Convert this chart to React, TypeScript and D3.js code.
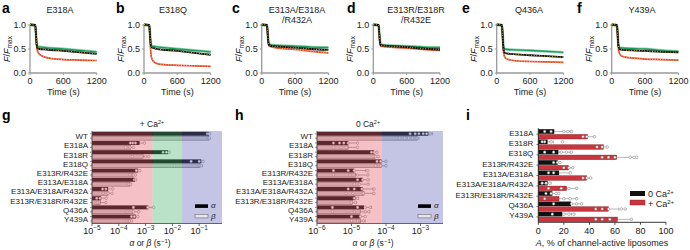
import React from 'react';
import * as d3 from 'd3';

const FONT = "'Liberation Sans', Arial, Helvetica, sans-serif";

// ---------- top panels (a-f) ----------
const topLetters = ['a', 'b', 'c', 'd', 'e', 'f'];
const topTitles = [['E318A'], ['E318Q'], ['E313A/E318A', '/R432A'], ['E313R/E318R', '/R432E'], ['Q436A'], ['Y439A']];
const timeTicks = [0, 600, 1200];
const ffTicks = [0, 0.5, 1.0];
const ffTickLabels = ['0.0', '0.5', '1.0'];

const blackTraces = [
  [[0, 1.01], [95, 1.0], [105, 0.85], [118, 0.62], [135, 0.52], [170, 0.5], [300, 0.49], [600, 0.46], [900, 0.43], [1200, 0.4]],
  [[0, 1.01], [95, 1.0], [105, 0.85], [118, 0.63], [135, 0.54], [200, 0.51], [600, 0.46], [900, 0.42], [1200, 0.38]],
  [[0, 1.01], [95, 1.0], [105, 0.87], [118, 0.66], [135, 0.58], [200, 0.56], [600, 0.53], [900, 0.5], [1200, 0.48]],
  [[0, 1.01], [95, 1.0], [105, 0.87], [118, 0.66], [135, 0.58], [200, 0.57], [600, 0.54], [900, 0.51], [1200, 0.49]],
  [[0, 1.01], [95, 1.0], [105, 0.82], [118, 0.55], [135, 0.44], [170, 0.41], [600, 0.37], [900, 0.35], [1200, 0.33]],
  [[0, 1.01], [95, 1.0], [105, 0.84], [118, 0.6], [135, 0.5], [200, 0.48], [600, 0.46], [900, 0.44], [1200, 0.43]],
];
const greenTraces = [
  [[0, 1.0], [95, 0.99], [105, 0.86], [120, 0.62], [140, 0.55], [200, 0.54], [600, 0.5], [900, 0.47], [1200, 0.44]],
  [[0, 1.0], [95, 0.99], [105, 0.86], [120, 0.63], [140, 0.56], [200, 0.55], [600, 0.5], [900, 0.47], [1200, 0.44]],
  [[0, 1.0], [95, 0.99], [105, 0.87], [120, 0.66], [140, 0.59], [200, 0.58], [600, 0.56], [900, 0.54], [1200, 0.53]],
  [[0, 1.0], [95, 0.99], [105, 0.87], [120, 0.66], [140, 0.59], [200, 0.58], [600, 0.56], [900, 0.54], [1200, 0.53]],
  [[0, 1.0], [95, 0.99], [105, 0.84], [120, 0.58], [140, 0.5], [200, 0.49], [600, 0.47], [900, 0.45], [1200, 0.43]],
  [[0, 1.0], [95, 0.99], [105, 0.85], [120, 0.61], [140, 0.53], [200, 0.52], [600, 0.5], [900, 0.47], [1200, 0.45]],
];
const redTraces = [
  [[0, 1.0], [95, 0.99], [105, 0.82], [118, 0.58], [135, 0.46], [170, 0.39], [250, 0.34], [400, 0.3], [600, 0.28], [900, 0.27], [1200, 0.26]],
  [[0, 1.0], [95, 0.99], [105, 0.8], [118, 0.5], [135, 0.32], [170, 0.24], [250, 0.19], [400, 0.17], [600, 0.16], [900, 0.15], [1200, 0.14]],
  [[0, 1.0], [95, 0.99], [105, 0.86], [118, 0.64], [135, 0.56], [200, 0.54], [600, 0.49], [900, 0.45], [1200, 0.42]],
  [[0, 1.0], [95, 0.99], [105, 0.86], [118, 0.64], [135, 0.56], [200, 0.55], [600, 0.52], [900, 0.49], [1200, 0.47]],
  [[0, 1.0], [95, 0.99], [105, 0.8], [118, 0.5], [135, 0.36], [170, 0.3], [250, 0.27], [400, 0.25], [600, 0.24], [900, 0.23], [1200, 0.22]],
  [[0, 1.0], [95, 0.99], [105, 0.82], [118, 0.55], [135, 0.42], [170, 0.36], [250, 0.33], [400, 0.31], [600, 0.29], [900, 0.28], [1200, 0.27]],
];

// ---------- rate panels (g, h) ----------
const rateCats = ['WT', 'E318A', 'E318R', 'E318Q', 'E313R/R432E', 'E313A/E318A', 'E313A/E318A/R432A', 'E313R/E318R/R432E', 'Q436A', 'Y439A'];

const alphaCa = [0.23, 6.0e-4, 6.9e-3, 0.12, 5.2e-4, 4.0e-4, 4.0e-5, 2.2e-5, 1.25e-3, 4.3e-4];
const alphaCaErr = [0.25, 9.0e-4, 8.0e-3, 0.14, 6.2e-4, 4.4e-4, 6.0e-5, 3.4e-5, 2.0e-3, 5.2e-4];
const alphaCaPts = [[0.2, 0.22, 0.24], [2.7e-4, 3.3e-4, 4.2e-4, 9e-4], [4.5e-3, 6e-3, 7.5e-3], [0.05, 0.1, 0.14], [4.5e-4, 5.5e-4, 6.1e-4], [3.8e-4, 4.3e-4], [2.5e-5, 3.3e-5, 6e-5], [1.5e-5, 2e-5, 3.4e-5], [3.5e-4, 1.2e-3, 2e-3], [3e-4, 3.8e-4, 5.1e-4]];
const betaCa = [0.23, 2.8e-4, 8.1e-4, 0.107, 3.4e-4, 2.6e-4, 4.0e-5, 2.1e-5, 3.4e-4, 2.6e-4];
const betaCaErr = [0.25, 3.6e-4, 1.3e-3, 0.13, 4.2e-4, 2.9e-4, 5.8e-5, 3.3e-5, 5.5e-4, 3.1e-4];
const betaCaPts = [[0.22, 0.24], [1.8e-4, 2.6e-4, 3.5e-4], [3.2e-4, 1e-3, 1.3e-3], [0.012, 0.1, 0.12], [2.6e-4, 3.5e-4, 4.2e-4], [2.4e-4, 2.8e-4], [2.6e-5, 4e-5, 5.6e-5], [1.6e-5, 3.3e-5], [2e-4, 3.5e-4, 5.5e-4], [2e-4, 2.5e-4, 3e-4]];

const alpha0 = [1.7e-3, 8e-6, 4.5e-5, 7.4e-5, 1.2e-5, 2.1e-5, 2.1e-5, 1.3e-5, 2.3e-5, 1.8e-5];
const alpha0Err = [2.2e-3, 1.5e-5, 5.5e-5, 1.0e-4, 2.6e-5, 3.2e-5, 4.2e-5, 1.6e-5, 3.8e-5, 2.5e-5];
const alpha0Pts = [[5e-4, 7e-4, 9e-4, 1.2e-3, 1.5e-3, 1.9e-3], [3e-6, 4.5e-6, 6e-6, 8e-6, 1.5e-5], [3.8e-5, 4.5e-5, 5.5e-5], [5.5e-5, 7e-5, 1e-4], [3e-6, 8e-6, 1.2e-5, 3e-5], [1.5e-5, 2.1e-5, 3e-5], [8e-6, 1.2e-5, 2e-5, 4.5e-5], [1.2e-5, 1.5e-5], [2.8e-6, 1.5e-5, 2.5e-5, 3.5e-5], [1e-5, 1.8e-5, 2.5e-5]];
const beta0 = [8e-4, 8e-6, 4.8e-5, 7.4e-5, 1.3e-5, 1.7e-5, 2.3e-5, 1.05e-5, 1.8e-5, 1.8e-5];
const beta0Err = [9e-4, 1.5e-5, 6e-5, 1.0e-4, 3e-5, 3.2e-5, 4.2e-5, 1.4e-5, 3.3e-5, 2.5e-5];
const beta0Pts = [[2.5e-4, 3.5e-4, 4.5e-4, 6e-4, 8e-4], [3e-6, 5e-6, 7e-6, 1.5e-5], [4.2e-5, 5e-5, 6e-5], [5e-5, 7e-5, 1e-4], [3e-6, 9e-6, 1.5e-5, 3e-5], [1.2e-5, 1.7e-5, 3e-5], [7e-6, 1.1e-5, 2.2e-5, 4.5e-5], [1e-5, 1.3e-5], [2.8e-6, 1.2e-5, 2.5e-5, 3.2e-5], [1e-5, 1.5e-5, 2.2e-5]];

const caTickExps = [-5, -4, -3, -2, -1];
const zeroTickExps = [-6, -5, -4, -3];
const caRegionEdges = [1e-5, 1.8e-3, 2.3e-2, 0.71];
const zeroRegionEdges = [1e-6, 7.6e-5, 4.49e-3];

// ---------- panel i ----------
const liposomeCats = ['E318A', 'E318R', 'E318Q', 'E313R/R432E', 'E313A/E318A', 'E313A/E318A/R432A', 'E313R/E318R/R432E', 'Q436A', 'Y439A'];
const act0 = [12.5, 7.3, 15.7, 15.2, 16.2, 7.3, 11, 25.6, 18.8];
const act0Err = [25, 12, 25, 17, 25, 10, 16, 34, 26];
const act0Pts = [[5, 10, 20, 23, 26], [3, 5, 10, 19], [5, 12, 18, 22, 26], [12, 15, 17], [8, 12, 25], [3, 6, 9], [6, 10, 14, 16], [12, 26, 30, 34], [11, 20, 24, 28]];
const actCa = [38.6, 51, 61.4, 23.5, 37.9, 22.2, 16.2, 54.8, 62];
const actCaErr = [44, 54, 77, 27, 41, 30, 30, 63, 73];
const actCaPts = [[35, 38, 44], [46, 50, 54], [50, 55, 60, 72, 75, 77], [20, 24, 27], [35, 38, 41], [8, 18, 24, 30], [5, 20, 25, 30], [45, 50, 55, 65, 68], [45, 50, 56, 73]];
const actTicks = [0, 20, 40, 60, 80, 100];

// ---------- layout ----------
const TOP_Y0 = 73, TOP_Y1 = 25, TOP_W = 66.7;
const topX0 = [30, 144, 261.7, 373.3, 496.7, 611.7];
const topTitleX = [60, 173, 297, 416, 529, 642];
const topLetterX = [2, 116, 232, 347, 462, 577];

const AXIS_GRAY = '#9a9a9a';
const TXT = '#222';

function TracePanel({ i }: { i: number }) {
  const x0 = topX0[i];
  const x = d3.scaleLinear().domain([0, 1200]).range([x0, x0 + TOP_W]);
  const y = d3.scaleLinear().domain([0, 1]).range([TOP_Y0, TOP_Y1]);
  const line = d3.line<number[]>().x(d => x(d[0])).y(d => y(d[1])).curve(d3.curveMonotoneX);
  const title = topTitles[i];
  return (
    <g>
      <text x={topLetterX[i]} y={13} fontSize={14} fontWeight="bold" fontFamily={FONT} fill="#000">{topLetters[i]}</text>
      {title.map((t, k) => (
        <text key={k} x={topTitleX[i]} y={13 + k * 10} fontSize={9} textAnchor="middle" fontFamily={FONT} fill={TXT}>{t}</text>
      ))}
      <line x1={x0} x2={x0} y1={TOP_Y0} y2={TOP_Y1 - 1} stroke={AXIS_GRAY} strokeWidth={1.3} />
      <line x1={x0} x2={x0 + TOP_W} y1={TOP_Y0} y2={TOP_Y0} stroke={AXIS_GRAY} strokeWidth={1.3} />
      {ffTicks.map((t, k) => (
        <g key={k}>
          <line x1={x0 - 2} x2={x0} y1={y(t)} y2={y(t)} stroke={AXIS_GRAY} strokeWidth={1} />
          <text x={x0 - 4} y={y(t) + 3.2} fontSize={9} textAnchor="end" fontFamily={FONT} fill={TXT}>{ffTickLabels[k]}</text>
        </g>
      ))}
      {timeTicks.map((t, k) => (
        <g key={k}>
          <line x1={x(t)} x2={x(t)} y1={TOP_Y0} y2={TOP_Y0 + 2} stroke={AXIS_GRAY} strokeWidth={1} />
          <text x={x(t)} y={TOP_Y0 + 10.5} fontSize={9} textAnchor="middle" fontFamily={FONT} fill={TXT}>{t}</text>
        </g>
      ))}
      <text x={x0 + TOP_W / 2} y={95} fontSize={9} textAnchor="middle" fontFamily={FONT} fill={TXT}>Time (s)</text>
      <text transform={`translate(${x0 - 20},${(TOP_Y0 + TOP_Y1) / 2}) rotate(-90)`} fontSize={9} textAnchor="middle" fontFamily={FONT} fill={TXT}>
        <tspan fontStyle="italic">F</tspan>/<tspan fontStyle="italic">F</tspan><tspan fontSize={6.5} dy={2}>max</tspan>
      </text>
      <path d={line(greenTraces[i]) || ''} fill="none" stroke="#8fd6b4" strokeWidth={2.8} />
      <path d={line(greenTraces[i]) || ''} fill="none" stroke="#1f9a5e" strokeWidth={1.4} />
      <path d={line(redTraces[i]) || ''} fill="none" stroke="#e0402a" strokeWidth={1.7} />
      <path d={line(redTraces[i]) || ''} fill="none" stroke="#f2d060" strokeWidth={0.9} strokeDasharray="1 1.6" />
      <path d={line(blackTraces[i]) || ''} fill="none" stroke="#000" strokeWidth={1.8} />
      <path d={line(blackTraces[i]) || ''} fill="none" stroke="#e8d84a" strokeWidth={0.9} strokeDasharray="1 1.6" />
    </g>
  );
}

const ROW_TOP = 131.5, ROW_BOT = 223.5;

function Pow10({ x, y, e }: { x: number; y: number; e: number }) {
  return (
    <text x={x} y={y} fontSize={9} textAnchor="middle" fontFamily={FONT} fill={TXT}>
      10<tspan fontSize={6.5} dy={-4}>{e < 0 ? '\u2212' + Math.abs(e) : e}</tspan>
    </text>
  );
}

function Pt({ cx, cy }: { cx: number; cy: number }) {
  return <circle cx={cx} cy={cy} r={1.3} fill="#fff" stroke="#777" strokeWidth={0.5} />;
}

function RatePanel(props: {
  letter: string; letterX: number; x0: number; x1: number; domain: [number, number];
  edges: number[]; regionColors: string[]; tickExps: number[]; title: string; titleX: number;
  alpha: number[]; alphaErr: number[]; alphaPts: number[][];
  beta: number[]; betaErr: number[]; betaPts: number[][];
  legendX: number; axisTitleX: number;
}) {
  const { x0, x1 } = props;
  const x = d3.scaleLog().domain(props.domain).range([x0, x1]);
  const yb = d3.scaleBand<string>().domain(rateCats).range([ROW_TOP, ROW_BOT]);
  const bw = yb.bandwidth();
  const bh = bw * 0.43;
  return (
    <g>
      <text x={props.letterX} y={120} fontSize={14} fontWeight="bold" fontFamily={FONT} fill="#000">{props.letter}</text>
      <text x={props.titleX} y={127} fontSize={8.5} textAnchor="middle" fontFamily={FONT} fill={TXT}>
        {props.title}<tspan fontSize={5.5} dy={-3.5}>2+</tspan>
      </text>
      {rateCats.map((c, k) => {
        const yt = yb(c)!;
        const ya = yt + 0.3, ybeta = yt + bw * 0.51;
        return (
          <g key={c}>
            <rect x={x0} y={ya} width={x(props.alpha[k]) - x0} height={bh} fill="#000" />
            <rect x={x0} y={ybeta} width={x(props.beta[k]) - x0} height={bh} fill="#cfcfcf" stroke="#555" strokeWidth={0.5} />
            <line x1={x(props.alpha[k])} x2={x(props.alphaErr[k])} y1={ya + bh / 2} y2={ya + bh / 2} stroke="#666" strokeWidth={0.6} />
            <line x1={x(props.alphaErr[k])} x2={x(props.alphaErr[k])} y1={ya + 0.5} y2={ya + bh - 0.5} stroke="#666" strokeWidth={0.6} />
            <line x1={x(props.beta[k])} x2={x(props.betaErr[k])} y1={ybeta + bh / 2} y2={ybeta + bh / 2} stroke="#666" strokeWidth={0.6} />
            <line x1={x(props.betaErr[k])} x2={x(props.betaErr[k])} y1={ybeta + 0.5} y2={ybeta + bh - 0.5} stroke="#666" strokeWidth={0.6} />
            {props.alphaPts[k].map((v, j) => <Pt key={'a' + j} cx={x(v)} cy={ya + bh / 2} />)}
            {props.betaPts[k].map((v, j) => <Pt key={'b' + j} cx={x(v)} cy={ybeta + bh / 2} />)}
            <text x={x0 - 4} y={yt + bw / 2 + 3} fontSize={8} textAnchor="end" fontFamily={FONT} fill={TXT}>{c}</text>
            <line x1={x0 - 2} x2={x0} y1={ya + bh / 2} y2={ya + bh / 2} stroke="#555" strokeWidth={0.6} />
            <line x1={x0 - 2} x2={x0} y1={ybeta + bh / 2} y2={ybeta + bh / 2} stroke="#555" strokeWidth={0.6} />
          </g>
        );
      })}
      {props.regionColors.map((col, k) => (
        <rect key={k} x={x(props.edges[k])} y={ROW_TOP - 0.5} width={x(props.edges[k + 1]) - x(props.edges[k])} height={ROW_BOT - ROW_TOP + 0.5} fill={col} fillOpacity={0.4} />
      ))}
      <line x1={x0} x2={x0} y1={ROW_TOP - 0.5} y2={ROW_BOT} stroke="#444" strokeWidth={0.8} />
      <line x1={x0} x2={x1} y1={ROW_BOT} y2={ROW_BOT} stroke="#444" strokeWidth={0.8} />
      {props.tickExps.map(e => (
        <g key={e}>
          <line x1={x(Math.pow(10, e))} x2={x(Math.pow(10, e))} y1={ROW_BOT} y2={ROW_BOT + 2.5} stroke="#444" strokeWidth={0.8} />
          <Pow10 x={x(Math.pow(10, e))} y={234} e={e} />
        </g>
      ))}
      <text x={props.axisTitleX} y={246} fontSize={8.5} textAnchor="middle" fontFamily={FONT} fill={TXT}>
        <tspan fontStyle="italic">α</tspan> or <tspan fontStyle="italic">β</tspan> (s<tspan fontSize={6} dy={-3.5}>−1</tspan><tspan dy={3.5}>)</tspan>
      </text>
      <rect x={props.legendX} y={204.3} width={13} height={3.6} fill="#000" />
      <text x={props.legendX + 16} y={208} fontSize={8} fontStyle="italic" fontFamily={FONT} fill={TXT}>α</text>
      <rect x={props.legendX} y={214.3} width={13} height={3.6} fill="#e6e6ee" stroke="#555" strokeWidth={0.5} />
      <text x={props.legendX + 16} y={218.5} fontSize={8} fontStyle="italic" fontFamily={FONT} fill={TXT}>β</text>
    </g>
  );
}

function ActivityPanel() {
  const x0 = 538.3, x1 = 666;
  const top = 129.2, bot = 222.3;
  const x = d3.scaleLinear().domain([0, 100]).range([x0, x1]);
  const yb = d3.scaleBand<string>().domain(liposomeCats).range([top, top + 93]);
  const bh = 4.6;
  return (
    <g>
      <text x={466} y={120} fontSize={14} fontWeight="bold" fontFamily={FONT} fill="#000">i</text>
      {liposomeCats.map((c, k) => {
        const yt = yb(c)!;
        const y0 = yt, yc = yt + 5.2;
        return (
          <g key={c}>
            <line x1={x(act0[k])} x2={x(act0Err[k])} y1={y0 + bh / 2} y2={y0 + bh / 2} stroke="#888" strokeWidth={0.6} />
            <line x1={x(act0Err[k])} x2={x(act0Err[k])} y1={y0 + 0.8} y2={y0 + bh - 0.8} stroke="#888" strokeWidth={0.6} />
            <line x1={x(actCa[k])} x2={x(actCaErr[k])} y1={yc + bh / 2} y2={yc + bh / 2} stroke="#888" strokeWidth={0.6} />
            <line x1={x(actCaErr[k])} x2={x(actCaErr[k])} y1={yc + 0.8} y2={yc + bh - 0.8} stroke="#888" strokeWidth={0.6} />
            <rect x={x0} y={y0} width={x(act0[k]) - x0} height={bh} fill="#111" />
            <rect x={x0} y={yc} width={x(actCa[k]) - x0} height={bh} fill="#c9353c" stroke="#7a1a1e" strokeWidth={0.4} />
            {act0Pts[k].map((v, j) => <Pt key={'z' + j} cx={x(v)} cy={y0 + bh / 2} />)}
            {actCaPts[k].map((v, j) => <Pt key={'c' + j} cx={x(v)} cy={yc + bh / 2} />)}
            <text x={x0 - 5} y={yt + 6.5} fontSize={8} textAnchor="end" fontFamily={FONT} fill={TXT}>{c}</text>
            <line x1={x0 - 2} x2={x0} y1={yt + 5} y2={yt + 5} stroke="#333" strokeWidth={0.6} />
          </g>
        );
      })}
      <line x1={x0} x2={x0} y1={top - 1} y2={bot} stroke="#222" strokeWidth={0.9} />
      <line x1={x0} x2={x1} y1={bot} y2={bot} stroke="#222" strokeWidth={0.9} />
      {actTicks.map(t => (
        <g key={t}>
          <line x1={x(t)} x2={x(t)} y1={bot} y2={bot + 2.5} stroke="#222" strokeWidth={0.8} />
          <text x={x(t)} y={234} fontSize={9} textAnchor="middle" fontFamily={FONT} fill={TXT}>{t}</text>
        </g>
      ))}
      <text x={602} y={246} fontSize={9} textAnchor="middle" fontFamily={FONT} fill={TXT}>
        <tspan fontStyle="italic">A</tspan>, % of channel-active liposomes
      </text>
      <rect x={630} y={191} width={15} height={5} fill="#111" />
      <text x={648} y={196.5} fontSize={9} fontFamily={FONT} fill={TXT}>0 Ca<tspan fontSize={6} dy={-3}>2+</tspan></text>
      <rect x={630} y={200} width={15} height={5} fill="#c9353c" stroke="#7a1a1e" strokeWidth={0.4} />
      <text x={648} y={206.5} fontSize={9} fontFamily={FONT} fill={TXT}>+ Ca<tspan fontSize={6} dy={-3}>2+</tspan></text>
    </g>
  );
}

export default function App() {
  return (
    <svg width={690} height={250} viewBox="0 0 690 250" style={{ position: 'absolute', left: 0, top: 0, background: '#fff' }}>
      <rect x={0} y={0} width={690} height={250} fill="#fff" />
      {topLetters.map((_, i) => <TracePanel key={i} i={i} />)}
      <RatePanel letter="g" letterX={2} x0={92} x1={222} domain={[1e-5, 0.71]} edges={caRegionEdges}
        regionColors={['#e56371', '#50b678', '#6c6cbd']} tickExps={caTickExps} title="+ Ca" titleX={152}
        alpha={alphaCa} alphaErr={alphaCaErr} alphaPts={alphaCaPts} beta={betaCa} betaErr={betaCaErr} betaPts={betaCaPts}
        legendX={195} axisTitleX={150} />
      <RatePanel letter="h" letterX={235} x0={317} x1={443} domain={[1e-6, 4.49e-3]} edges={zeroRegionEdges}
        regionColors={['#e56371', '#6c6cbd']} tickExps={zeroTickExps} title="0 Ca" titleX={368}
        alpha={alpha0} alphaErr={alpha0Err} alphaPts={alpha0Pts} beta={beta0} betaErr={beta0Err} betaPts={beta0Pts}
        legendX={418} axisTitleX={373} />
      <ActivityPanel />
    </svg>
  );
}
